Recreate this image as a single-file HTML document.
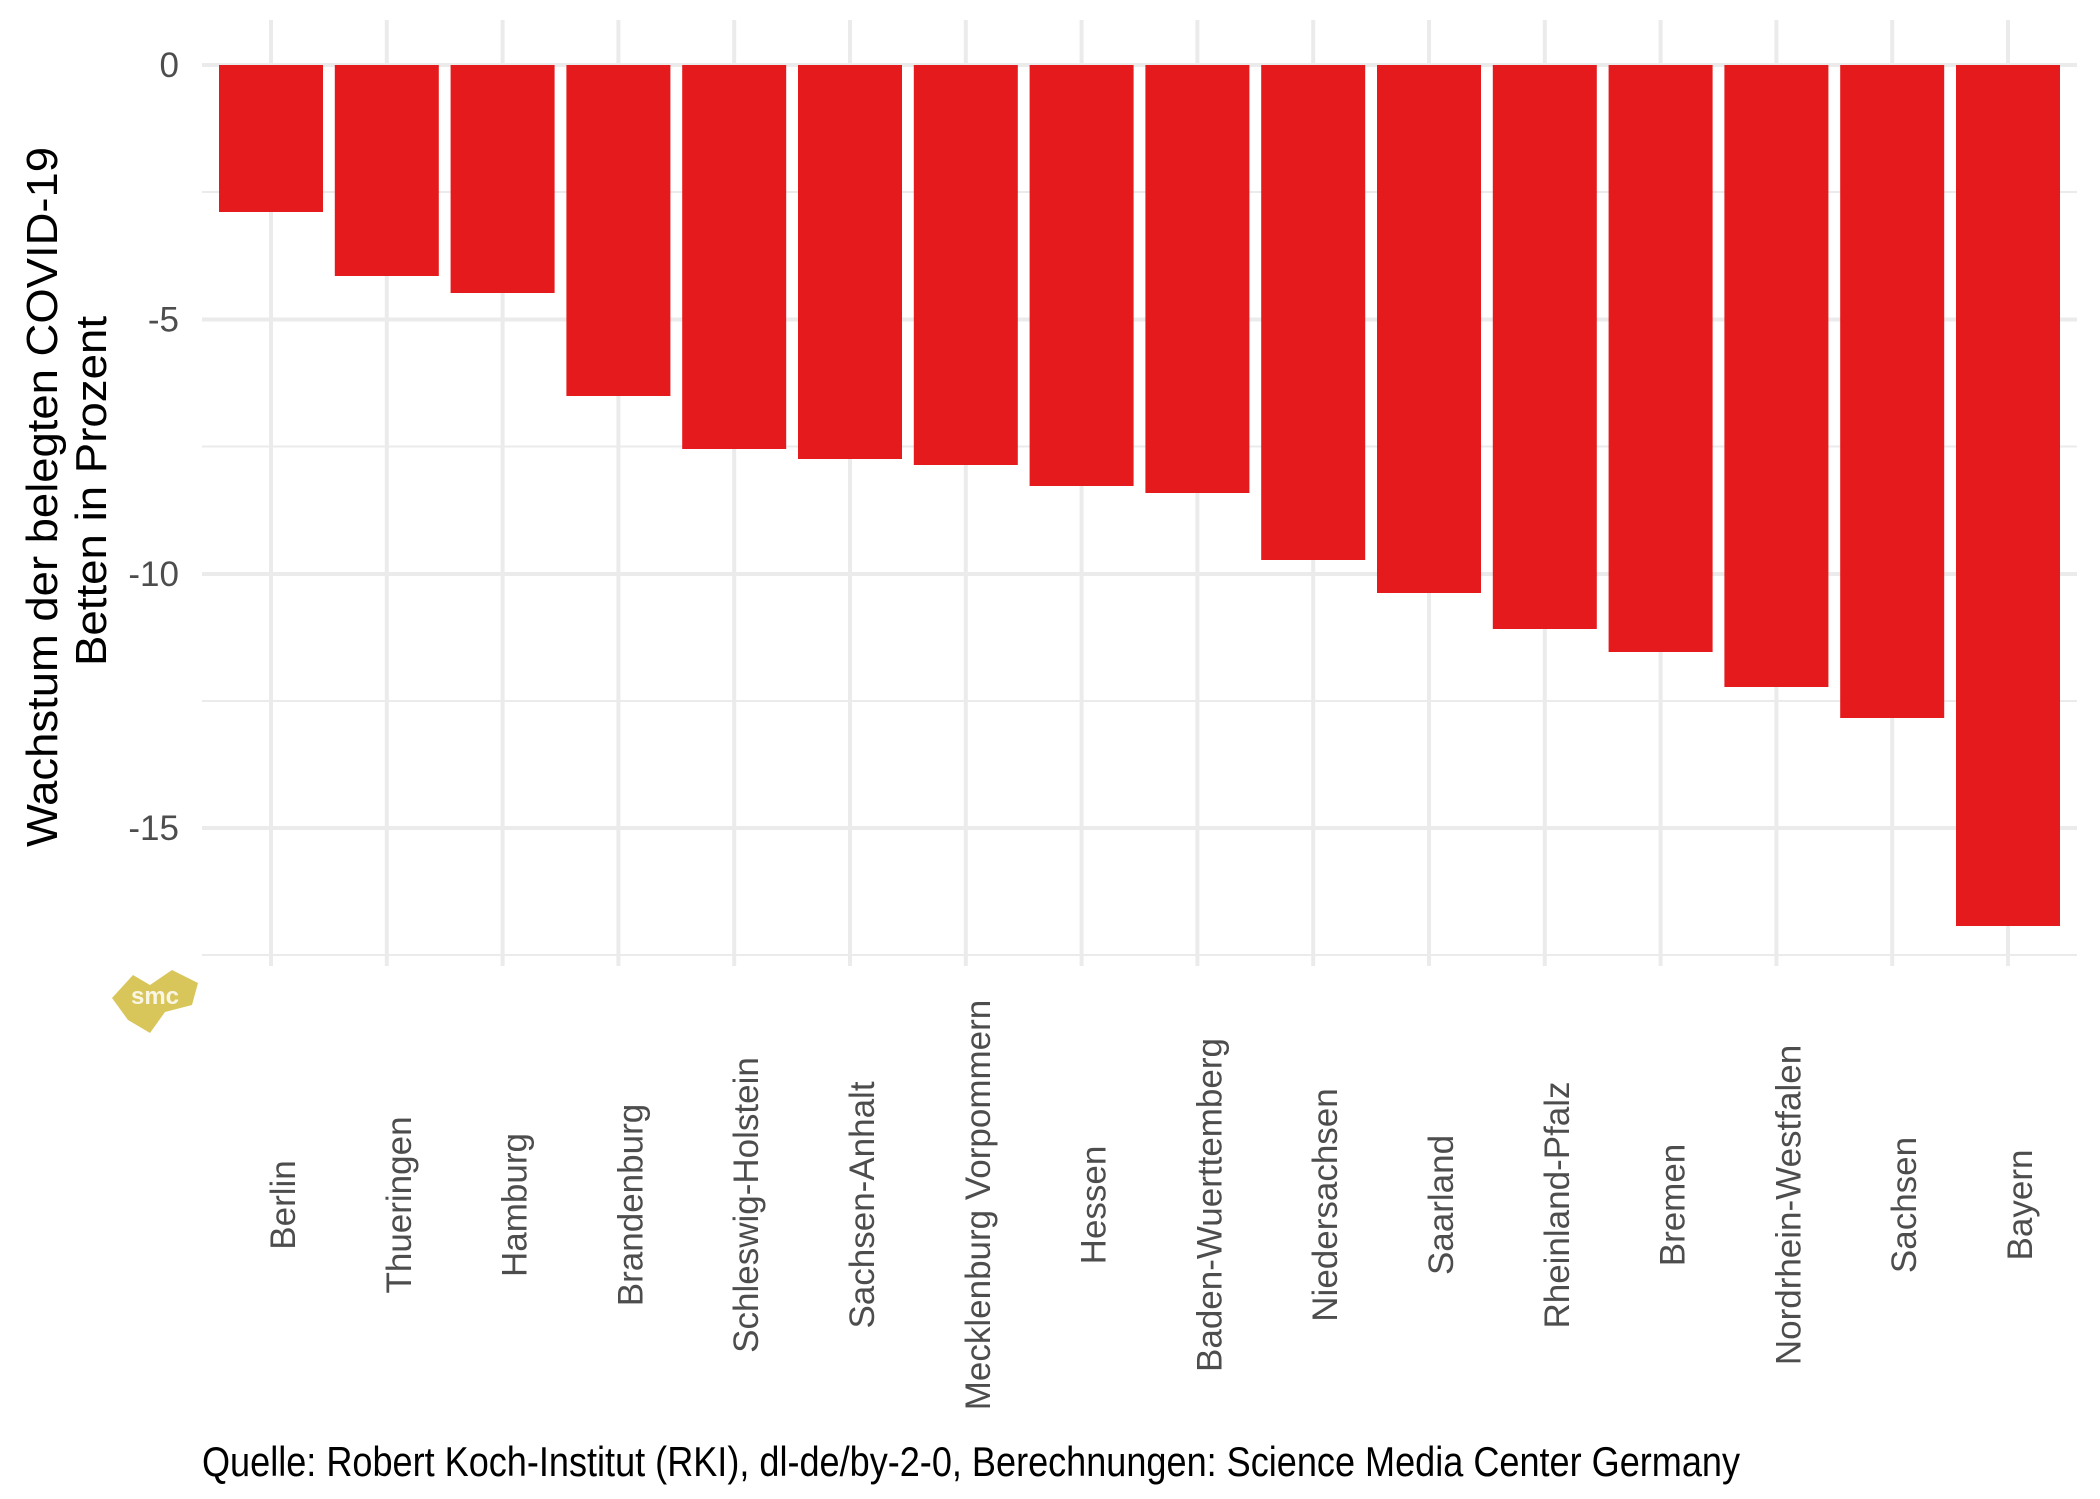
<!DOCTYPE html>
<html><head><meta charset="utf-8"><style>html,body{margin:0;padding:0;background:#fff}svg{display:block}</style></head>
<body>
<svg width="2100" height="1499" viewBox="0 0 2100 1499" xmlns="http://www.w3.org/2000/svg" font-family="Liberation Sans, Arial, sans-serif">
<rect width="2100" height="1499" fill="#fff"/>
<g stroke="#ebebeb" stroke-width="2">
<line x1="202" x2="2077" y1="192" y2="192"/>
<line x1="202" x2="2077" y1="446.5" y2="446.5"/>
<line x1="202" x2="2077" y1="701" y2="701"/>
<line x1="202" x2="2077" y1="955" y2="955"/>
</g>
<g stroke="#ebebeb" stroke-width="4">
<line x1="202" x2="2077" y1="65" y2="65"/>
<line x1="202" x2="2077" y1="319.5" y2="319.5"/>
<line x1="202" x2="2077" y1="574" y2="574"/>
<line x1="202" x2="2077" y1="828" y2="828"/>
<line x1="271" x2="271" y1="20" y2="966"/>
<line x1="386.8" x2="386.8" y1="20" y2="966"/>
<line x1="502.6" x2="502.6" y1="20" y2="966"/>
<line x1="618.4" x2="618.4" y1="20" y2="966"/>
<line x1="734.2" x2="734.2" y1="20" y2="966"/>
<line x1="850" x2="850" y1="20" y2="966"/>
<line x1="965.8" x2="965.8" y1="20" y2="966"/>
<line x1="1081.6" x2="1081.6" y1="20" y2="966"/>
<line x1="1197.4" x2="1197.4" y1="20" y2="966"/>
<line x1="1313.2" x2="1313.2" y1="20" y2="966"/>
<line x1="1429" x2="1429" y1="20" y2="966"/>
<line x1="1544.8" x2="1544.8" y1="20" y2="966"/>
<line x1="1660.6" x2="1660.6" y1="20" y2="966"/>
<line x1="1776.4" x2="1776.4" y1="20" y2="966"/>
<line x1="1892.2" x2="1892.2" y1="20" y2="966"/>
<line x1="2008" x2="2008" y1="20" y2="966"/>
</g>
<g fill="#e41a1c">
<rect x="219" y="65" width="104" height="147"/>
<rect x="334.8" y="65" width="104" height="211"/>
<rect x="450.6" y="65" width="104" height="228"/>
<rect x="566.4" y="65" width="104" height="331"/>
<rect x="682.2" y="65" width="104" height="384"/>
<rect x="798" y="65" width="104" height="394"/>
<rect x="913.8" y="65" width="104" height="400"/>
<rect x="1029.6" y="65" width="104" height="421"/>
<rect x="1145.4" y="65" width="104" height="428"/>
<rect x="1261.2" y="65" width="104" height="495"/>
<rect x="1377" y="65" width="104" height="528"/>
<rect x="1492.8" y="65" width="104" height="564"/>
<rect x="1608.6" y="65" width="104" height="587"/>
<rect x="1724.4" y="65" width="104" height="622"/>
<rect x="1840.2" y="65" width="104" height="653"/>
<rect x="1956" y="65" width="104" height="861"/>
</g>
<g fill="#4d4d4d" font-size="35" text-anchor="end">
<text x="179" y="77">0</text>
<text x="179" y="331.5">-5</text>
<text x="179" y="586">-10</text>
<text x="179" y="840">-15</text>
</g>
<g fill="#4d4d4d" font-size="35" text-anchor="middle">
<text transform="translate(295,1205) rotate(-90)">Berlin</text>
<text transform="translate(410.8,1205) rotate(-90)">Thueringen</text>
<text transform="translate(526.6,1205) rotate(-90)">Hamburg</text>
<text transform="translate(642.4,1205) rotate(-90)">Brandenburg</text>
<text transform="translate(758.2,1205) rotate(-90)">Schleswig-Holstein</text>
<text transform="translate(874,1205) rotate(-90)">Sachsen-Anhalt</text>
<text transform="translate(989.8,1205) rotate(-90)">Mecklenburg Vorpommern</text>
<text transform="translate(1105.6,1205) rotate(-90)">Hessen</text>
<text transform="translate(1221.4,1205) rotate(-90)">Baden-Wuerttemberg</text>
<text transform="translate(1337.2,1205) rotate(-90)">Niedersachsen</text>
<text transform="translate(1453,1205) rotate(-90)">Saarland</text>
<text transform="translate(1568.8,1205) rotate(-90)">Rheinland-Pfalz</text>
<text transform="translate(1684.6,1205) rotate(-90)">Bremen</text>
<text transform="translate(1800.4,1205) rotate(-90)">Nordrhein-Westfalen</text>
<text transform="translate(1916.2,1205) rotate(-90)">Sachsen</text>
<text transform="translate(2032,1205) rotate(-90)">Bayern</text>
</g>
<g fill="#000" font-size="44" text-anchor="middle">
<text transform="translate(57,497) rotate(-90)" textLength="700" lengthAdjust="spacingAndGlyphs">Wachstum der belegten COVID-19</text>
<text transform="translate(106,491) rotate(-90)" textLength="350" lengthAdjust="spacingAndGlyphs">Betten in Prozent</text>
</g>
<text x="202" y="1476" font-size="42" fill="#000" textLength="1538" lengthAdjust="spacingAndGlyphs">Quelle: Robert Koch-Institut (RKI), dl-de/by-2-0, Berechnungen: Science Media Center Germany</text>
<g>
<polygon points="112,998 133,975 150,985 172,970 198,983 192,1005 165,1012 150,1033 128,1020" fill="#d9c65a"/>
<text x="155" y="1004" font-size="24" font-weight="bold" fill="#fff" text-anchor="middle" opacity="0.85">smc</text>
</g>
</svg>
</body></html>
